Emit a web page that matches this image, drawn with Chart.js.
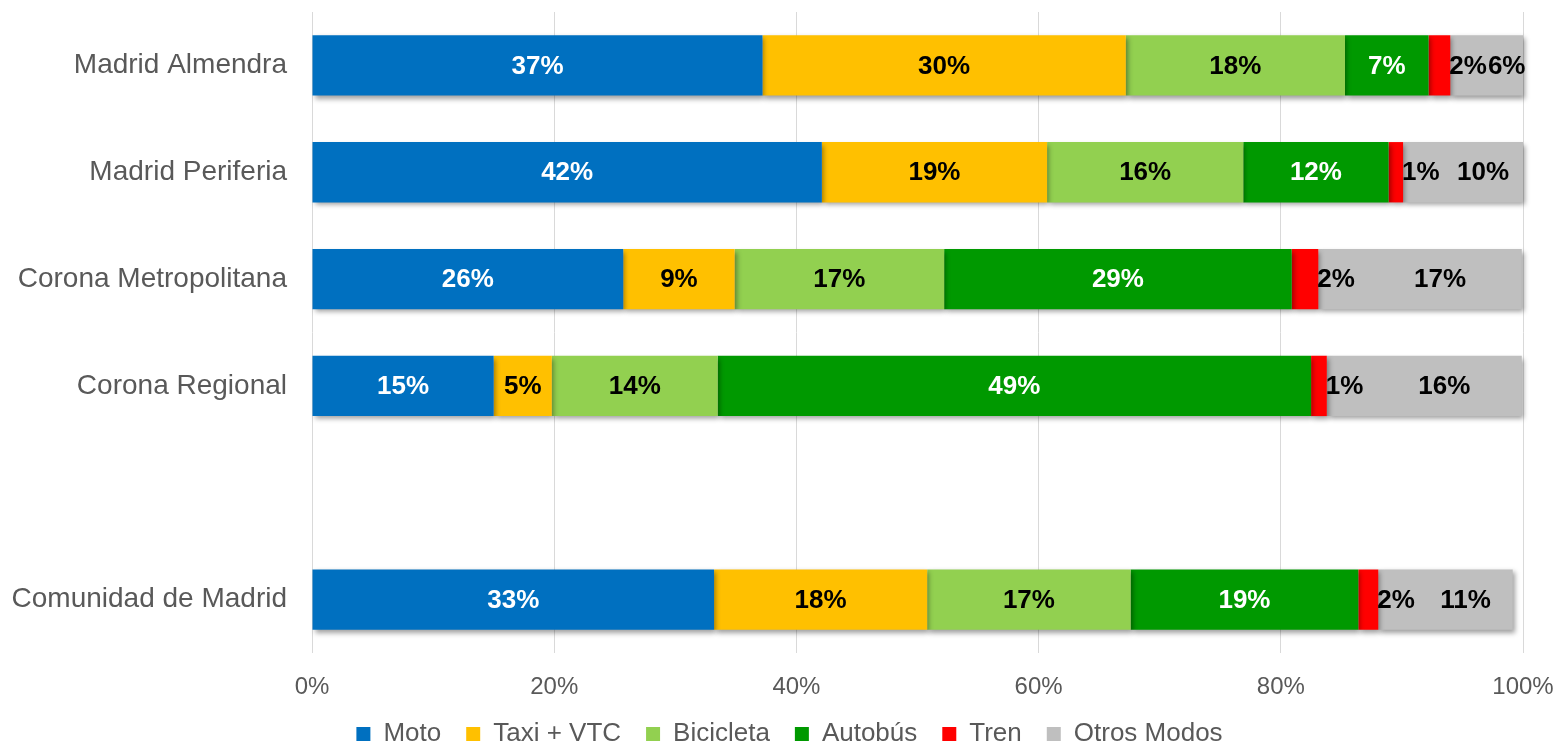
<!DOCTYPE html>
<html>
<head>
<meta charset="utf-8">
<title>Reparto modal</title>
<script src="https://cdn.jsdelivr.net/npm/chart.js@4.4.1/dist/chart.umd.min.js"></script>
<style>
  html, body { margin: 0; padding: 0; overflow: hidden; background: #fff; }
  #wrap { width: 1558px; height: 757px; }
</style>
</head>
<body>
<div id="wrap"><canvas id="chart" width="1558" height="757"></canvas></div>
<script>
    // categorias (la quinta fila va vacia, deja el hueco)
    const zonas = ["Madrid Almendra", "Madrid Periferia", "Corona Metropolitana", "Corona Regional", "", "Comunidad de Madrid"];

    // reparto en % por modo
    const moto    = [37.2, 42.1, 25.7, 15.0, null, 33.2];
    const taxi    = [30.0, 18.6,  9.2,  4.8, null, 17.6];
    const bici    = [18.1, 16.2, 17.3, 13.7, null, 16.8];
    const autobus = [ 6.9, 12.0, 28.7, 49.0, null, 18.8];
    const tren    = [ 1.8,  1.2,  2.2,  1.3, null, 1.65];
    const otros   = [ 6.0,  9.9, 16.8, 16.1, null, 11.1];

    const xTicks = [0, 20, 40, 60, 80, 100];

    const FONT = '"Liberation Sans", Arial, sans-serif';
    const GREY = "#595959";

    // sombra suave bajo las barras
    const barShadow = {
      id: "barShadow",
      beforeDatasetsDraw(chart) {
        const ctx = chart.ctx;
        ctx.save();
        ctx.shadowColor = "rgba(0,0,0,0.38)";
        ctx.shadowBlur = 5;
        ctx.shadowOffsetX = 2;
        ctx.shadowOffsetY = 3;
      },
      afterDatasetsDraw(chart) {
        chart.ctx.restore();
      }
    };

    // la leyenda va un poco a la derecha del centro
    const legendShift = {
      id: "legendShift",
      afterLayout(chart) {
        if (!chart.legend) return;
        chart.legend.left += 28;
        chart.legend.right += 28;
      }
    };

    // etiquetas de datos
    const barLabels = {
      id: "barLabels",
      afterDatasetsDraw(chart) {
        const ctx = chart.ctx;
        ctx.save();
        ctx.font = "bold 26px " + FONT;
        ctx.textBaseline = "middle";
        chart.data.datasets.forEach((ds, i) => {
          chart.getDatasetMeta(i).data.forEach((bar, j) => {
            const v = ds.data[j];
            if (v == null) return;
            const left = Math.min(bar.x, bar.base);
            const right = Math.max(bar.x, bar.base);
            let x = (left + right) / 2;
            ctx.textAlign = "center";
            if (ds.label === "Tren") {
              x = right - 1;
              ctx.textAlign = "left";
            } else if (ds.label === "Otros Modos") {
              x += 20;
            }
            ctx.fillStyle = ds.labelColor;
            ctx.fillText(Math.round(v) + "%", x, bar.y + 1);
          });
        });
        ctx.restore();
      }
    };

    const series = [
      { label: "Moto",        data: moto,    backgroundColor: "#0070C0", labelColor: "#FFFFFF" },
      { label: "Taxi + VTC",  data: taxi,    backgroundColor: "#FFC000", labelColor: "#000000" },
      { label: "Bicicleta",   data: bici,    backgroundColor: "#92D050", labelColor: "#000000" },
      { label: "Autobús",     data: autobus, backgroundColor: "#009900", labelColor: "#FFFFFF" },
      { label: "Tren",        data: tren,    backgroundColor: "#FF0000", labelColor: "#000000" },
      { label: "Otros Modos", data: otros,   backgroundColor: "#BFBFBF", labelColor: "#000000" }
    ].map(s => ({ ...s, borderWidth: 0, categoryPercentage: 1, barPercentage: 0.565, clip: false }));

    new Chart(document.getElementById("chart").getContext("2d"), {
      type: "bar",
      data: { labels: zonas, datasets: series },
      options: {
        indexAxis: "y",
        responsive: false,
        animation: false,
        layout: { padding: { top: 12, right: 35, bottom: 0, left: 0 } },
        plugins: {
          tooltip: { enabled: false },
          legend: {
            position: "bottom",
            labels: {
              boxWidth: 14,
              boxHeight: 14,
              padding: 25,
              color: GREY,
              font: { family: FONT, size: 26 }
            }
          }
        },
        scales: {
          x: {
            stacked: true,
            min: 0,
            max: 100,
            afterBuildTicks: scale => { scale.ticks = xTicks.map(v => ({ value: v })); },
            afterFit: scale => {
              scale.height = 43;
              scale.paddingLeft = 0;
              scale.paddingRight = 0;
            },
            grid: { color: "#D9D9D9", lineWidth: 1, drawTicks: false },
            border: { display: false },
            ticks: {
              padding: 20,
              color: GREY,
              font: { family: FONT, size: 24 },
              callback: value => value + "%"
            }
          },
          y: {
            stacked: true,
            afterFit: scale => {
              scale.width = 312;
              scale.paddingTop = 0;
              scale.paddingBottom = 0;
            },
            grid: { display: false, drawTicks: false },
            border: { display: false },
            ticks: {
              padding: 25,
              color: GREY,
              font: { family: FONT, size: 28 }
            }
          }
        }
      },
      plugins: [barShadow, barLabels, legendShift]
    });
</script>
</body>
</html>
